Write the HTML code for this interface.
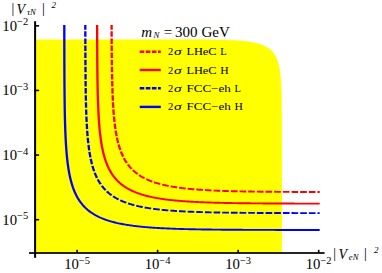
<!DOCTYPE html>
<html><head><meta charset="utf-8"><style>
html,body{margin:0;padding:0;background:#fff;}
svg{display:block;font-family:"Liberation Serif",serif;}
</style></head><body>
<svg width="382" height="273" viewBox="0 0 382 273">
<rect width="382" height="273" fill="#fff"/>
<path d="M35.10,253.00 L35.10,39.40 L112.39,39.40 L136.63,39.40 L150.81,39.41 L160.87,39.41 L168.67,39.42 L175.04,39.43 L180.43,39.44 L185.09,39.46 L189.21,39.47 L192.89,39.49 L196.21,39.50 L199.25,39.52 L202.04,39.55 L204.62,39.57 L207.02,39.60 L209.27,39.62 L211.38,39.65 L213.36,39.68 L215.24,39.71 L217.02,39.75 L218.71,39.78 L220.32,39.82 L221.86,39.86 L223.33,39.90 L224.74,39.94 L226.10,39.99 L227.40,40.04 L228.65,40.08 L229.86,40.13 L231.02,40.19 L232.14,40.24 L233.23,40.30 L234.29,40.35 L235.30,40.41 L236.29,40.47 L237.25,40.54 L238.19,40.60 L239.09,40.67 L239.97,40.74 L240.83,40.81 L241.66,40.88 L242.48,40.96 L243.27,41.03 L244.04,41.11 L244.79,41.19 L245.53,41.27 L246.25,41.36 L246.95,41.44 L247.64,41.53 L248.31,41.62 L248.96,41.71 L249.60,41.81 L250.23,41.91 L250.85,42.00 L251.45,42.10 L252.04,42.21 L252.62,42.31 L253.18,42.42 L253.74,42.53 L254.28,42.64 L254.82,42.75 L255.34,42.87 L255.85,42.99 L256.36,43.11 L256.85,43.23 L257.34,43.35 L257.82,43.48 L258.28,43.61 L258.75,43.74 L259.20,43.87 L259.64,44.01 L260.08,44.15 L260.51,44.29 L260.93,44.43 L261.34,44.58 L261.75,44.73 L262.15,44.88 L262.55,45.03 L262.93,45.19 L263.32,45.35 L263.69,45.51 L264.06,45.67 L264.42,45.84 L264.78,46.01 L265.13,46.18 L265.48,46.36 L265.82,46.54 L266.15,46.72 L266.48,46.90 L266.80,47.09 L267.12,47.28 L267.44,47.47 L267.75,47.67 L268.05,47.87 L268.35,48.07 L268.65,48.27 L268.94,48.48 L269.22,48.69 L269.50,48.91 L269.78,49.13 L270.05,49.35 L270.32,49.58 L270.58,49.80 L270.84,50.04 L271.10,50.27 L271.35,50.51 L271.60,50.76 L271.84,51.01 L272.08,51.26 L272.32,51.52 L272.55,51.78 L272.78,52.04 L273.01,52.31 L273.23,52.58 L273.45,52.86 L273.66,53.14 L273.87,53.43 L274.08,53.72 L274.29,54.01 L274.49,54.32 L274.69,54.62 L274.88,54.93 L275.07,55.25 L275.26,55.57 L275.45,55.90 L275.63,56.23 L275.81,56.57 L275.98,56.91 L276.15,57.26 L276.32,57.62 L276.49,57.98 L276.66,58.35 L276.82,58.73 L276.97,59.11 L277.13,59.50 L277.28,59.90 L277.43,60.30 L277.58,60.72 L277.72,61.14 L277.86,61.57 L278.00,62.00 L278.14,62.45 L278.27,62.90 L278.40,63.37 L278.53,63.84 L278.66,64.32 L278.78,64.82 L278.90,65.32 L279.02,65.83 L279.13,66.36 L279.24,66.90 L279.35,67.45 L279.46,68.01 L279.57,68.59 L279.67,69.18 L279.77,69.78 L279.87,70.40 L279.96,71.04 L280.05,71.69 L280.14,72.36 L280.23,73.05 L280.32,73.76 L280.40,74.48 L280.48,75.23 L280.56,76.00 L280.64,76.80 L280.71,77.61 L280.78,78.46 L280.85,79.33 L280.92,80.23 L280.98,81.17 L281.05,82.14 L281.11,83.14 L281.17,84.19 L281.22,85.27 L281.27,86.40 L281.33,87.58 L281.38,88.82 L281.42,90.11 L281.47,91.47 L281.51,92.90 L281.55,94.41 L281.59,96.00 L281.62,97.69 L281.66,99.49 L281.69,101.42 L281.72,103.49 L281.74,105.73 L281.77,108.17 L281.79,110.84 L281.81,113.79 L281.83,117.09 L281.85,120.84 L281.86,125.16 L281.87,130.27 L281.88,136.53 L281.89,144.61 L281.90,155.99 L281.90,175.44 L281.90,253.00Z" fill="#ffff00"/>
<g transform="scale(1.22,1)">
<path d="M52.70,25.01 L52.70,25.94 L52.70,26.86 L52.71,27.79 L52.71,28.72 L52.71,29.65 L52.71,30.57 L52.71,31.50 L52.71,32.43 L52.71,33.36 L52.71,34.29 L52.71,35.21 L52.71,36.14 L52.71,37.07 L52.71,38.00 L52.72,38.92 L52.72,39.85 L52.72,40.78 L52.72,41.71 L52.72,42.63 L52.72,43.56 L52.72,44.49 L52.72,45.42 L52.73,46.34 L52.73,47.27 L52.73,48.20 L52.73,49.13 L52.73,50.06 L52.73,50.98 L52.73,51.91 L52.74,52.84 L52.74,53.77 L52.74,54.69 L52.74,55.62 L52.74,56.55 L52.75,57.48 L52.75,58.40 L52.75,59.33 L52.75,60.26 L52.75,61.19 L52.76,62.11 L52.76,63.04 L52.76,63.97 L52.76,64.90 L52.77,65.83 L52.77,66.75 L52.77,67.68 L52.78,68.61 L52.78,69.54 L52.78,70.46 L52.78,71.39 L52.79,72.32 L52.79,73.25 L52.80,74.17 L52.80,75.10 L52.80,76.03 L52.81,76.96 L52.81,77.88 L52.82,78.81 L52.82,79.74 L52.82,80.67 L52.83,81.60 L52.83,82.52 L52.84,83.45 L52.84,84.38 L52.85,85.31 L52.86,86.23 L52.86,87.16 L52.87,88.09 L52.87,89.02 L52.88,89.94 L52.89,90.87 L52.89,91.80 L52.90,92.73 L52.91,93.65 L52.91,94.58 L52.92,95.51 L52.93,96.44 L52.94,97.36 L52.95,98.29 L52.96,99.22 L52.97,100.15 L52.98,101.08 L52.99,102.00 L53.00,102.93 L53.01,103.86 L53.02,104.79 L53.03,105.71 L53.04,106.64 L53.05,107.57 L53.06,108.50 L53.08,109.42 L53.09,110.35 L53.10,111.28 L53.12,112.21 L53.13,113.13 L53.15,114.06 L53.16,114.99 L53.18,115.92 L53.20,116.85 L53.21,117.77 L53.23,118.70 L53.25,119.63 L53.27,120.56 L53.29,121.48 L53.31,122.41 L53.33,123.34 L53.35,124.27 L53.38,125.19 L53.40,126.12 L53.43,127.05 L53.45,127.98 L53.48,128.90 L53.50,129.83 L53.53,130.76 L53.56,131.69 L53.59,132.62 L53.62,133.54 L53.65,134.47 L53.69,135.40 L53.72,136.33 L53.76,137.25 L53.79,138.18 L53.83,139.11 L53.87,140.04 L53.91,140.96 L53.95,141.89 L54.00,142.82 L54.04,143.75 L54.09,144.67 L54.14,145.60 L54.19,146.53 L54.24,147.46 L54.29,148.39 L54.35,149.31 L54.41,150.24 L54.47,151.17 L54.53,152.10 L54.59,153.02 L54.66,153.95 L54.73,154.88 L54.80,155.81 L54.87,156.73 L54.95,157.66 L55.03,158.59 L55.11,159.52 L55.20,160.44 L55.29,161.37 L55.38,162.30 L55.47,163.23 L55.57,164.16 L55.67,165.08 L55.78,166.01 L55.89,166.94 L56.00,167.87 L56.12,168.79 L56.24,169.72 L56.37,170.65 L56.50,171.58 L56.64,172.50 L56.79,173.43 L56.93,174.36 L57.09,175.29 L57.25,176.21 L57.42,177.14 L57.59,178.07 L57.77,179.00 L57.96,179.93 L58.15,180.85 L58.35,181.78 L58.57,182.71 L58.79,183.64 L59.02,184.56 L59.25,185.49 L59.50,186.42 L59.76,187.35 L60.04,188.27 L60.32,189.20 L60.61,190.13 L60.92,191.06 L61.24,191.98 L61.58,192.91 L61.93,193.84 L62.30,194.77 L62.69,195.70 L63.10,196.62 L63.52,197.55 L63.97,198.48 L64.44,199.41 L64.93,200.33 L65.45,201.26 L65.99,202.19 L66.57,203.12 L67.17,204.04 L67.81,204.97 L68.49,205.90 L69.21,206.83 L69.97,207.75 L70.78,208.68 L71.64,209.61 L72.55,210.54 L73.50,211.44 L74.45,212.28 L75.40,213.07 L76.34,213.81 L77.29,214.52 L78.24,215.18 L79.19,215.81 L80.13,216.40 L81.08,216.96 L82.03,217.50 L82.98,218.01 L83.92,218.49 L84.87,218.95 L85.82,219.38 L86.77,219.80 L87.71,220.20 L88.66,220.57 L89.61,220.94 L90.56,221.28 L91.50,221.61 L92.45,221.93 L93.40,222.23 L94.35,222.52 L95.29,222.80 L96.24,223.06 L97.19,223.32 L98.13,223.56 L99.08,223.79 L100.03,224.02 L100.98,224.23 L101.92,224.44 L102.87,224.64 L103.82,224.83 L104.77,225.01 L105.71,225.19 L106.66,225.36 L107.61,225.52 L108.56,225.68 L109.50,225.83 L110.45,225.98 L111.40,226.12 L112.35,226.25 L113.29,226.38 L114.24,226.51 L115.19,226.63 L116.14,226.74 L117.08,226.86 L118.03,226.96 L118.98,227.07 L119.93,227.17 L120.87,227.26 L121.82,227.36 L122.77,227.45 L123.72,227.53 L124.66,227.62 L125.61,227.70 L126.56,227.77 L127.51,227.85 L128.45,227.92 L129.40,227.99 L130.35,228.06 L131.29,228.12 L132.24,228.19 L133.19,228.25 L134.14,228.31 L135.08,228.36 L136.03,228.42 L136.98,228.47 L137.93,228.52 L138.87,228.57 L139.82,228.62 L140.77,228.66 L141.72,228.71 L142.66,228.75 L143.61,228.79 L144.56,228.83 L145.51,228.87 L146.45,228.91 L147.40,228.94 L148.35,228.98 L149.30,229.01 L150.24,229.04 L151.19,229.08 L152.14,229.11 L153.09,229.13 L154.03,229.16 L154.98,229.19 L155.93,229.22 L156.88,229.24 L157.82,229.27 L158.77,229.29 L159.72,229.31 L160.67,229.34 L161.61,229.36 L162.56,229.38 L163.51,229.40 L164.45,229.42 L165.40,229.44 L166.35,229.46 L167.30,229.47 L168.24,229.49 L169.19,229.51 L170.14,229.52 L171.09,229.54 L172.03,229.55 L172.98,229.57 L173.93,229.58 L174.88,229.60 L175.82,229.61 L176.77,229.62 L177.72,229.63 L178.67,229.64 L179.61,229.66 L180.56,229.67 L181.51,229.68 L182.46,229.69 L183.40,229.70 L184.35,229.71 L185.30,229.72 L186.25,229.73 L187.19,229.73 L188.14,229.74 L189.09,229.75 L190.04,229.76 L190.98,229.77 L191.93,229.77 L192.88,229.78 L193.83,229.79 L194.77,229.80 L195.72,229.80 L196.67,229.81 L197.61,229.81 L198.56,229.82 L199.51,229.83 L200.46,229.83 L201.40,229.84 L202.35,229.84 L203.30,229.85 L204.25,229.85 L205.19,229.86 L206.14,229.86 L207.09,229.86 L208.04,229.87 L208.98,229.87 L209.93,229.88 L210.88,229.88 L211.83,229.88 L212.77,229.89 L213.72,229.89 L214.67,229.89 L215.62,229.90 L216.56,229.90 L217.51,229.90 L218.46,229.91 L219.41,229.91 L220.35,229.91 L221.30,229.92 L222.25,229.92 L223.20,229.92 L224.14,229.92 L225.09,229.92 L226.04,229.93 L226.98,229.93 L227.93,229.93 L228.88,229.93 L229.83,229.94 L230.77,229.94 L231.72,229.94 L232.67,229.94 L233.62,229.94 L234.56,229.94 L235.51,229.95 L236.46,229.95 L237.41,229.95 L238.35,229.95 L239.30,229.95 L240.25,229.95 L241.20,229.95 L242.14,229.96 L243.09,229.96 L244.04,229.96 L244.99,229.96 L245.93,229.96 L246.88,229.96 L247.83,229.96 L248.78,229.96 L249.72,229.96 L250.67,229.97 L251.62,229.97 L252.57,229.97 L253.51,229.97 L254.46,229.97 L255.41,229.97 L256.36,229.97 L257.30,229.97 L258.25,229.97 L259.20,229.97 L260.14,229.97 L261.09,229.97 L262.04,229.97" fill="none" stroke="#0000ff" stroke-width="1.9"/>
<path d="M69.93,25.01 L69.93,25.85 L69.93,26.70 L69.93,27.54 L69.93,28.38 L69.93,29.23 L69.93,30.07 L69.93,30.91 L69.93,31.76 L69.94,32.60 L69.94,33.44 L69.94,34.29 L69.94,35.13 L69.94,35.97 L69.94,36.82 L69.95,37.66 L69.95,38.50 L69.95,39.35 L69.95,40.19 L69.95,41.03 L69.95,41.88 L69.96,42.72 L69.96,43.56 L69.96,44.41 L69.96,45.25 L69.96,46.09 L69.97,46.94 L69.97,47.78 L69.97,48.62 L69.97,49.47 L69.98,50.31 L69.98,51.15 L69.98,52.00 L69.99,52.84 L69.99,53.68 L69.99,54.53 L69.99,55.37 L70.00,56.21 L70.00,57.06 L70.00,57.90 L70.01,58.75 L70.01,59.59 L70.01,60.43 L70.02,61.28 L70.02,62.12 L70.03,62.96 L70.03,63.81 L70.03,64.65 L70.04,65.49 L70.04,66.34 L70.05,67.18 L70.05,68.02 L70.06,68.87 L70.06,69.71 L70.07,70.55 L70.07,71.40 L70.08,72.24 L70.09,73.08 L70.09,73.93 L70.10,74.77 L70.10,75.61 L70.11,76.46 L70.12,77.30 L70.12,78.14 L70.13,78.99 L70.14,79.83 L70.15,80.67 L70.15,81.52 L70.16,82.36 L70.17,83.20 L70.18,84.05 L70.19,84.89 L70.20,85.73 L70.21,86.58 L70.22,87.42 L70.23,88.26 L70.24,89.11 L70.25,89.95 L70.26,90.79 L70.27,91.64 L70.28,92.48 L70.29,93.32 L70.31,94.17 L70.32,95.01 L70.33,95.86 L70.35,96.70 L70.36,97.54 L70.37,98.39 L70.39,99.23 L70.41,100.07 L70.42,100.92 L70.44,101.76 L70.45,102.60 L70.47,103.45 L70.49,104.29 L70.51,105.13 L70.53,105.98 L70.55,106.82 L70.57,107.66 L70.59,108.51 L70.61,109.35 L70.63,110.19 L70.65,111.04 L70.68,111.88 L70.70,112.72 L70.73,113.57 L70.75,114.41 L70.78,115.25 L70.81,116.10 L70.84,116.94 L70.87,117.78 L70.90,118.63 L70.93,119.47 L70.96,120.31 L70.99,121.16 L71.03,122.00 L71.06,122.84 L71.10,123.69 L71.14,124.53 L71.18,125.37 L71.22,126.22 L71.26,127.06 L71.30,127.90 L71.34,128.75 L71.39,129.59 L71.44,130.43 L71.48,131.28 L71.53,132.12 L71.59,132.97 L71.64,133.81 L71.70,134.65 L71.75,135.50 L71.81,136.34 L71.87,137.18 L71.93,138.03 L72.00,138.87 L72.07,139.71 L72.13,140.56 L72.21,141.40 L72.28,142.24 L72.36,143.09 L72.43,143.93 L72.52,144.77 L72.60,145.62 L72.69,146.46 L72.78,147.30 L72.87,148.15 L72.96,148.99 L73.06,149.83 L73.17,150.68 L73.27,151.52 L73.38,152.36 L73.50,153.21 L73.61,154.05 L73.73,154.89 L73.86,155.74 L73.99,156.58 L74.13,157.42 L74.27,158.27 L74.41,159.11 L74.56,159.95 L74.71,160.80 L74.88,161.64 L75.04,162.48 L75.21,163.33 L75.39,164.17 L75.58,165.01 L75.77,165.86 L75.97,166.70 L76.18,167.55 L76.39,168.39 L76.62,169.23 L76.85,170.08 L77.09,170.92 L77.34,171.76 L77.60,172.61 L77.87,173.45 L78.16,174.29 L78.45,175.14 L78.76,175.98 L79.08,176.82 L79.41,177.67 L79.75,178.51 L80.12,179.35 L80.49,180.20 L80.89,181.04 L81.30,181.88 L81.73,182.73 L82.18,183.57 L82.65,184.41 L83.15,185.26 L83.66,186.10 L84.21,186.94 L84.78,187.79 L85.38,188.63 L86.02,189.47 L86.69,190.32 L87.39,191.16 L88.14,192.00 L88.92,192.85 L89.76,193.69 L90.62,194.51 L91.48,195.28 L92.34,196.01 L93.21,196.70 L94.07,197.36 L94.93,197.98 L95.79,198.57 L96.65,199.13 L97.51,199.66 L98.37,200.17 L99.24,200.65 L100.10,201.11 L100.96,201.55 L101.82,201.98 L102.68,202.38 L103.54,202.77 L104.40,203.13 L105.27,203.49 L106.13,203.83 L106.99,204.15 L107.85,204.47 L108.71,204.76 L109.57,205.05 L110.43,205.33 L111.30,205.59 L112.16,205.85 L113.02,206.10 L113.88,206.33 L114.74,206.56 L115.60,206.78 L116.46,206.99 L117.33,207.19 L118.19,207.39 L119.05,207.58 L119.91,207.76 L120.77,207.93 L121.63,208.10 L122.49,208.27 L123.36,208.42 L124.22,208.57 L125.08,208.72 L125.94,208.86 L126.80,209.00 L127.66,209.13 L128.52,209.26 L129.38,209.38 L130.25,209.50 L131.11,209.62 L131.97,209.73 L132.83,209.83 L133.69,209.94 L134.55,210.04 L135.41,210.14 L136.28,210.23 L137.14,210.32 L138.00,210.41 L138.86,210.49 L139.72,210.58 L140.58,210.66 L141.44,210.73 L142.31,210.81 L143.17,210.88 L144.03,210.95 L144.89,211.02 L145.75,211.08 L146.61,211.15 L147.47,211.21 L148.34,211.27 L149.20,211.32 L150.06,211.38 L150.92,211.43 L151.78,211.49 L152.64,211.54 L153.50,211.58 L154.37,211.63 L155.23,211.68 L156.09,211.72 L156.95,211.77 L157.81,211.81 L158.67,211.85 L159.53,211.89 L160.40,211.93 L161.26,211.96 L162.12,212.00 L162.98,212.03 L163.84,212.07 L164.70,212.10 L165.56,212.13 L166.42,212.16 L167.29,212.19 L168.15,212.22 L169.01,212.25 L169.87,212.27 L170.73,212.30 L171.59,212.33 L172.45,212.35 L173.32,212.37 L174.18,212.40 L175.04,212.42 L175.90,212.44 L176.76,212.46 L177.62,212.48 L178.48,212.50 L179.35,212.52 L180.21,212.54 L181.07,212.56 L181.93,212.58 L182.79,212.59 L183.65,212.61 L184.51,212.63 L185.38,212.64 L186.24,212.66 L187.10,212.67 L187.96,212.69 L188.82,212.70 L189.68,212.71 L190.54,212.73 L191.41,212.74 L192.27,212.75 L193.13,212.76 L193.99,212.77 L194.85,212.78 L195.71,212.80 L196.57,212.81 L197.44,212.82 L198.30,212.83 L199.16,212.84 L200.02,212.84 L200.88,212.85 L201.74,212.86 L202.60,212.87 L203.46,212.88 L204.33,212.89 L205.19,212.89 L206.05,212.90 L206.91,212.91 L207.77,212.92 L208.63,212.92 L209.49,212.93 L210.36,212.94 L211.22,212.94 L212.08,212.95 L212.94,212.95 L213.80,212.96 L214.66,212.97 L215.52,212.97 L216.39,212.98 L217.25,212.98 L218.11,212.99 L218.97,212.99 L219.83,213.00 L220.69,213.00 L221.55,213.00 L222.42,213.01 L223.28,213.01 L224.14,213.02 L225.00,213.02 L225.86,213.02 L226.72,213.03 L227.58,213.03 L228.45,213.03 L229.31,213.04 L230.17,213.04 L231.03,213.04 L231.89,213.05 L232.75,213.05 L233.61,213.05 L234.48,213.06 L235.34,213.06 L236.20,213.06 L237.06,213.06 L237.92,213.07 L238.78,213.07 L239.64,213.07 L240.50,213.07 L241.37,213.08 L242.23,213.08 L243.09,213.08 L243.95,213.08 L244.81,213.08 L245.67,213.09 L246.53,213.09 L247.40,213.09 L248.26,213.09 L249.12,213.09 L249.98,213.09 L250.84,213.10 L251.70,213.10 L252.56,213.10 L253.43,213.10 L254.29,213.10 L255.15,213.10 L256.01,213.10 L256.87,213.11 L257.73,213.11 L258.59,213.11 L259.46,213.11 L260.32,213.11 L261.18,213.11 L262.04,213.11" fill="none" stroke="#0000ff" stroke-width="1.9" stroke-dasharray="5.5,1.6" stroke-dashoffset="0.8"/>
<path d="M79.61,25.01 L79.62,25.80 L79.62,26.60 L79.62,27.40 L79.62,28.19 L79.62,28.99 L79.62,29.78 L79.63,30.58 L79.63,31.38 L79.63,32.17 L79.63,32.97 L79.63,33.77 L79.63,34.56 L79.64,35.36 L79.64,36.15 L79.64,36.95 L79.64,37.75 L79.64,38.54 L79.65,39.34 L79.65,40.13 L79.65,40.93 L79.65,41.73 L79.66,42.52 L79.66,43.32 L79.66,44.11 L79.67,44.91 L79.67,45.71 L79.67,46.50 L79.67,47.30 L79.68,48.09 L79.68,48.89 L79.68,49.69 L79.69,50.48 L79.69,51.28 L79.69,52.07 L79.70,52.87 L79.70,53.67 L79.71,54.46 L79.71,55.26 L79.71,56.05 L79.72,56.85 L79.72,57.65 L79.73,58.44 L79.73,59.24 L79.74,60.03 L79.74,60.83 L79.75,61.63 L79.75,62.42 L79.76,63.22 L79.76,64.01 L79.77,64.81 L79.78,65.61 L79.78,66.40 L79.79,67.20 L79.79,68.00 L79.80,68.79 L79.81,69.59 L79.81,70.38 L79.82,71.18 L79.83,71.98 L79.84,72.77 L79.84,73.57 L79.85,74.36 L79.86,75.16 L79.87,75.96 L79.88,76.75 L79.89,77.55 L79.90,78.34 L79.91,79.14 L79.92,79.94 L79.93,80.73 L79.94,81.53 L79.95,82.32 L79.96,83.12 L79.97,83.92 L79.98,84.71 L79.99,85.51 L80.01,86.30 L80.02,87.10 L80.03,87.90 L80.05,88.69 L80.06,89.49 L80.07,90.28 L80.09,91.08 L80.10,91.88 L80.12,92.67 L80.14,93.47 L80.15,94.26 L80.17,95.06 L80.19,95.86 L80.21,96.65 L80.22,97.45 L80.24,98.24 L80.26,99.04 L80.28,99.84 L80.30,100.63 L80.33,101.43 L80.35,102.23 L80.37,103.02 L80.39,103.82 L80.42,104.61 L80.44,105.41 L80.47,106.21 L80.50,107.00 L80.52,107.80 L80.55,108.59 L80.58,109.39 L80.61,110.19 L80.64,110.98 L80.67,111.78 L80.70,112.57 L80.74,113.37 L80.77,114.17 L80.81,114.96 L80.84,115.76 L80.88,116.55 L80.92,117.35 L80.96,118.15 L81.00,118.94 L81.04,119.74 L81.09,120.53 L81.13,121.33 L81.18,122.13 L81.23,122.92 L81.28,123.72 L81.33,124.51 L81.38,125.31 L81.43,126.11 L81.49,126.90 L81.55,127.70 L81.60,128.49 L81.67,129.29 L81.73,130.09 L81.79,130.88 L81.86,131.68 L81.93,132.47 L82.00,133.27 L82.07,134.07 L82.15,134.86 L82.23,135.66 L82.31,136.46 L82.39,137.25 L82.47,138.05 L82.56,138.84 L82.65,139.64 L82.75,140.44 L82.84,141.23 L82.94,142.03 L83.05,142.82 L83.16,143.62 L83.27,144.42 L83.38,145.21 L83.50,146.01 L83.62,146.80 L83.74,147.60 L83.87,148.40 L84.01,149.19 L84.15,149.99 L84.29,150.78 L84.44,151.58 L84.59,152.38 L84.75,153.17 L84.91,153.97 L85.08,154.76 L85.26,155.56 L85.44,156.36 L85.63,157.15 L85.82,157.95 L86.02,158.74 L86.23,159.54 L86.45,160.34 L86.68,161.13 L86.91,161.93 L87.15,162.72 L87.40,163.52 L87.66,164.32 L87.93,165.11 L88.21,165.91 L88.51,166.70 L88.81,167.50 L89.12,168.30 L89.45,169.09 L89.79,169.89 L90.15,170.69 L90.52,171.48 L90.91,172.28 L91.31,173.07 L91.73,173.87 L92.17,174.67 L92.63,175.46 L93.11,176.26 L93.61,177.05 L94.14,177.85 L94.69,178.65 L95.27,179.44 L95.88,180.24 L96.51,181.03 L97.19,181.83 L97.90,182.63 L98.64,183.42 L99.44,184.22 L100.25,184.99 L101.06,185.72 L101.87,186.42 L102.69,187.08 L103.50,187.70 L104.31,188.30 L105.13,188.87 L105.94,189.41 L106.75,189.92 L107.57,190.41 L108.38,190.88 L109.19,191.33 L110.00,191.76 L110.82,192.17 L111.63,192.57 L112.44,192.95 L113.26,193.31 L114.07,193.66 L114.88,193.99 L115.70,194.31 L116.51,194.62 L117.32,194.92 L118.13,195.21 L118.95,195.48 L119.76,195.75 L120.57,196.00 L121.39,196.25 L122.20,196.48 L123.01,196.71 L123.83,196.93 L124.64,197.14 L125.45,197.35 L126.27,197.55 L127.08,197.74 L127.89,197.92 L128.70,198.10 L129.52,198.27 L130.33,198.44 L131.14,198.60 L131.96,198.75 L132.77,198.90 L133.58,199.05 L134.40,199.19 L135.21,199.32 L136.02,199.46 L136.83,199.58 L137.65,199.70 L138.46,199.82 L139.27,199.94 L140.09,200.05 L140.90,200.16 L141.71,200.26 L142.53,200.36 L143.34,200.46 L144.15,200.56 L144.96,200.65 L145.78,200.74 L146.59,200.82 L147.40,200.91 L148.22,200.99 L149.03,201.07 L149.84,201.14 L150.66,201.22 L151.47,201.29 L152.28,201.36 L153.09,201.43 L153.91,201.49 L154.72,201.56 L155.53,201.62 L156.35,201.68 L157.16,201.73 L157.97,201.79 L158.79,201.84 L159.60,201.90 L160.41,201.95 L161.23,202.00 L162.04,202.05 L162.85,202.09 L163.66,202.14 L164.48,202.18 L165.29,202.23 L166.10,202.27 L166.92,202.31 L167.73,202.35 L168.54,202.38 L169.36,202.42 L170.17,202.46 L170.98,202.49 L171.79,202.53 L172.61,202.56 L173.42,202.59 L174.23,202.62 L175.05,202.65 L175.86,202.68 L176.67,202.71 L177.49,202.74 L178.30,202.76 L179.11,202.79 L179.92,202.81 L180.74,202.84 L181.55,202.86 L182.36,202.88 L183.18,202.91 L183.99,202.93 L184.80,202.95 L185.62,202.97 L186.43,202.99 L187.24,203.01 L188.05,203.03 L188.87,203.05 L189.68,203.06 L190.49,203.08 L191.31,203.10 L192.12,203.11 L192.93,203.13 L193.75,203.15 L194.56,203.16 L195.37,203.18 L196.19,203.19 L197.00,203.20 L197.81,203.22 L198.62,203.23 L199.44,203.24 L200.25,203.25 L201.06,203.27 L201.88,203.28 L202.69,203.29 L203.50,203.30 L204.32,203.31 L205.13,203.32 L205.94,203.33 L206.75,203.34 L207.57,203.35 L208.38,203.36 L209.19,203.37 L210.01,203.38 L210.82,203.38 L211.63,203.39 L212.45,203.40 L213.26,203.41 L214.07,203.41 L214.88,203.42 L215.70,203.43 L216.51,203.44 L217.32,203.44 L218.14,203.45 L218.95,203.46 L219.76,203.46 L220.58,203.47 L221.39,203.47 L222.20,203.48 L223.01,203.48 L223.83,203.49 L224.64,203.49 L225.45,203.50 L226.27,203.50 L227.08,203.51 L227.89,203.51 L228.71,203.52 L229.52,203.52 L230.33,203.53 L231.14,203.53 L231.96,203.54 L232.77,203.54 L233.58,203.54 L234.40,203.55 L235.21,203.55 L236.02,203.55 L236.84,203.56 L237.65,203.56 L238.46,203.56 L239.28,203.57 L240.09,203.57 L240.90,203.57 L241.71,203.58 L242.53,203.58 L243.34,203.58 L244.15,203.58 L244.97,203.59 L245.78,203.59 L246.59,203.59 L247.41,203.59 L248.22,203.60 L249.03,203.60 L249.84,203.60 L250.66,203.60 L251.47,203.60 L252.28,203.61 L253.10,203.61 L253.91,203.61 L254.72,203.61 L255.54,203.61 L256.35,203.61 L257.16,203.62 L257.97,203.62 L258.79,203.62 L259.60,203.62 L260.41,203.62 L261.23,203.62 L262.04,203.63" fill="none" stroke="#ff0000" stroke-width="1.9"/>
<path d="M91.48,25.01 L91.48,25.75 L91.48,26.48 L91.48,27.22 L91.49,27.96 L91.49,28.70 L91.49,29.44 L91.49,30.18 L91.50,30.91 L91.50,31.65 L91.50,32.39 L91.50,33.13 L91.51,33.87 L91.51,34.60 L91.51,35.34 L91.51,36.08 L91.52,36.82 L91.52,37.56 L91.52,38.29 L91.53,39.03 L91.53,39.77 L91.53,40.51 L91.54,41.25 L91.54,41.98 L91.54,42.72 L91.55,43.46 L91.55,44.20 L91.56,44.94 L91.56,45.68 L91.56,46.41 L91.57,47.15 L91.57,47.89 L91.58,48.63 L91.58,49.37 L91.59,50.10 L91.59,50.84 L91.60,51.58 L91.60,52.32 L91.61,53.06 L91.61,53.79 L91.62,54.53 L91.62,55.27 L91.63,56.01 L91.64,56.75 L91.64,57.48 L91.65,58.22 L91.65,58.96 L91.66,59.70 L91.67,60.44 L91.68,61.17 L91.68,61.91 L91.69,62.65 L91.70,63.39 L91.71,64.13 L91.71,64.87 L91.72,65.60 L91.73,66.34 L91.74,67.08 L91.75,67.82 L91.76,68.56 L91.77,69.29 L91.78,70.03 L91.79,70.77 L91.80,71.51 L91.81,72.25 L91.82,72.98 L91.83,73.72 L91.84,74.46 L91.85,75.20 L91.86,75.94 L91.88,76.67 L91.89,77.41 L91.90,78.15 L91.92,78.89 L91.93,79.63 L91.94,80.37 L91.96,81.10 L91.97,81.84 L91.99,82.58 L92.00,83.32 L92.02,84.06 L92.04,84.79 L92.05,85.53 L92.07,86.27 L92.09,87.01 L92.11,87.75 L92.13,88.48 L92.15,89.22 L92.17,89.96 L92.19,90.70 L92.21,91.44 L92.23,92.17 L92.25,92.91 L92.28,93.65 L92.30,94.39 L92.32,95.13 L92.35,95.87 L92.38,96.60 L92.40,97.34 L92.43,98.08 L92.46,98.82 L92.48,99.56 L92.51,100.29 L92.54,101.03 L92.58,101.77 L92.61,102.51 L92.64,103.25 L92.67,103.98 L92.71,104.72 L92.74,105.46 L92.78,106.20 L92.82,106.94 L92.86,107.67 L92.90,108.41 L92.94,109.15 L92.98,109.89 L93.02,110.63 L93.07,111.37 L93.11,112.10 L93.16,112.84 L93.21,113.58 L93.26,114.32 L93.31,115.06 L93.36,115.79 L93.42,116.53 L93.47,117.27 L93.53,118.01 L93.59,118.75 L93.65,119.48 L93.71,120.22 L93.77,120.96 L93.84,121.70 L93.91,122.44 L93.98,123.17 L94.05,123.91 L94.12,124.65 L94.20,125.39 L94.28,126.13 L94.36,126.86 L94.44,127.60 L94.53,128.34 L94.61,129.08 L94.71,129.82 L94.80,130.56 L94.89,131.29 L94.99,132.03 L95.10,132.77 L95.20,133.51 L95.31,134.25 L95.42,134.98 L95.54,135.72 L95.66,136.46 L95.78,137.20 L95.90,137.94 L96.03,138.67 L96.17,139.41 L96.31,140.15 L96.45,140.89 L96.60,141.63 L96.75,142.36 L96.91,143.10 L97.07,143.84 L97.24,144.58 L97.41,145.32 L97.59,146.06 L97.77,146.79 L97.96,147.53 L98.16,148.27 L98.36,149.01 L98.57,149.75 L98.79,150.48 L99.02,151.22 L99.25,151.96 L99.49,152.70 L99.74,153.44 L100.00,154.17 L100.27,154.91 L100.55,155.65 L100.84,156.39 L101.13,157.13 L101.44,157.86 L101.77,158.60 L102.10,159.34 L102.45,160.08 L102.81,160.82 L103.19,161.56 L103.58,162.29 L103.98,163.03 L104.41,163.77 L104.85,164.51 L105.31,165.25 L105.79,165.98 L106.29,166.72 L106.82,167.46 L107.37,168.20 L107.94,168.94 L108.55,169.67 L109.18,170.41 L109.84,171.15 L110.54,171.89 L111.27,172.63 L112.03,173.35 L112.78,174.03 L113.54,174.68 L114.29,175.30 L115.04,175.89 L115.80,176.45 L116.55,176.99 L117.30,177.50 L118.06,177.99 L118.81,178.47 L119.57,178.92 L120.32,179.35 L121.07,179.76 L121.83,180.16 L122.58,180.55 L123.34,180.91 L124.09,181.27 L124.84,181.61 L125.60,181.93 L126.35,182.25 L127.10,182.55 L127.86,182.85 L128.61,183.13 L129.37,183.40 L130.12,183.66 L130.87,183.92 L131.63,184.16 L132.38,184.40 L133.14,184.63 L133.89,184.85 L134.64,185.06 L135.40,185.27 L136.15,185.47 L136.90,185.66 L137.66,185.85 L138.41,186.03 L139.17,186.20 L139.92,186.37 L140.67,186.54 L141.43,186.69 L142.18,186.85 L142.93,187.00 L143.69,187.14 L144.44,187.28 L145.20,187.42 L145.95,187.55 L146.70,187.68 L147.46,187.80 L148.21,187.92 L148.97,188.04 L149.72,188.15 L150.47,188.26 L151.23,188.36 L151.98,188.47 L152.73,188.57 L153.49,188.66 L154.24,188.76 L155.00,188.85 L155.75,188.94 L156.50,189.02 L157.26,189.11 L158.01,189.19 L158.77,189.27 L159.52,189.34 L160.27,189.42 L161.03,189.49 L161.78,189.56 L162.53,189.63 L163.29,189.70 L164.04,189.76 L164.80,189.82 L165.55,189.89 L166.30,189.94 L167.06,190.00 L167.81,190.06 L168.57,190.11 L169.32,190.17 L170.07,190.22 L170.83,190.27 L171.58,190.32 L172.33,190.36 L173.09,190.41 L173.84,190.45 L174.60,190.50 L175.35,190.54 L176.10,190.58 L176.86,190.62 L177.61,190.66 L178.36,190.70 L179.12,190.73 L179.87,190.77 L180.63,190.80 L181.38,190.84 L182.13,190.87 L182.89,190.90 L183.64,190.93 L184.40,190.97 L185.15,190.99 L185.90,191.02 L186.66,191.05 L187.41,191.08 L188.16,191.11 L188.92,191.13 L189.67,191.16 L190.43,191.18 L191.18,191.20 L191.93,191.23 L192.69,191.25 L193.44,191.27 L194.20,191.29 L194.95,191.31 L195.70,191.33 L196.46,191.35 L197.21,191.37 L197.96,191.39 L198.72,191.41 L199.47,191.43 L200.23,191.44 L200.98,191.46 L201.73,191.48 L202.49,191.49 L203.24,191.51 L203.99,191.52 L204.75,191.54 L205.50,191.55 L206.26,191.57 L207.01,191.58 L207.76,191.59 L208.52,191.61 L209.27,191.62 L210.03,191.63 L210.78,191.64 L211.53,191.65 L212.29,191.67 L213.04,191.68 L213.79,191.69 L214.55,191.70 L215.30,191.71 L216.06,191.72 L216.81,191.73 L217.56,191.74 L218.32,191.74 L219.07,191.75 L219.83,191.76 L220.58,191.77 L221.33,191.78 L222.09,191.79 L222.84,191.79 L223.59,191.80 L224.35,191.81 L225.10,191.82 L225.86,191.82 L226.61,191.83 L227.36,191.84 L228.12,191.84 L228.87,191.85 L229.63,191.86 L230.38,191.86 L231.13,191.87 L231.89,191.87 L232.64,191.88 L233.39,191.88 L234.15,191.89 L234.90,191.89 L235.66,191.90 L236.41,191.90 L237.16,191.91 L237.92,191.91 L238.67,191.92 L239.42,191.92 L240.18,191.93 L240.93,191.93 L241.69,191.93 L242.44,191.94 L243.19,191.94 L243.95,191.94 L244.70,191.95 L245.46,191.95 L246.21,191.96 L246.96,191.96 L247.72,191.96 L248.47,191.96 L249.22,191.97 L249.98,191.97 L250.73,191.97 L251.49,191.98 L252.24,191.98 L252.99,191.98 L253.75,191.98 L254.50,191.99 L255.26,191.99 L256.01,191.99 L256.76,191.99 L257.52,192.00 L258.27,192.00 L259.02,192.00 L259.78,192.00 L260.53,192.01 L261.29,192.01 L262.04,192.01" fill="none" stroke="#ff0000" stroke-width="1.9" stroke-dasharray="5.5,1.6" stroke-dashoffset="0.8"/>
</g>
<rect x="34.1" y="21.2" width="2" height="236.6" fill="#000"/>
<rect x="29" y="252.15" width="295.6" height="1.7" fill="#000"/>
<rect x="76.30" y="249.8" width="1.6" height="3" fill="#000"/>
<rect x="36" y="218.90" width="3.1" height="1.6" fill="#000"/>
<rect x="156.83" y="249.8" width="1.6" height="3" fill="#000"/>
<rect x="36" y="154.27" width="3.1" height="1.6" fill="#000"/>
<rect x="237.36" y="249.8" width="1.6" height="3" fill="#000"/>
<rect x="36" y="89.64" width="3.1" height="1.6" fill="#000"/>
<rect x="317.89" y="249.8" width="1.6" height="3" fill="#000"/>
<rect x="36" y="25.01" width="3.1" height="1.6" fill="#000"/>
<path d="M139.7,51.7 H160.8" stroke="#ff0000" stroke-width="2.4" stroke-dasharray="4.6,1.5"/>
<path d="M139.7,70.0 H160.8" stroke="#ff0000" stroke-width="2.4"/>
<path d="M139.7,88.3 H160.8" stroke="#0000ff" stroke-width="2.4" stroke-dasharray="4.6,1.5"/>
<path d="M139.7,106.9 H160.8" stroke="#0000ff" stroke-width="2.4"/>
<g fill="#000" stroke="none" font-family="'Liberation Serif',serif">
<text x="2.3" y="224.5" font-size="14.7" text-anchor="start">10<tspan font-size="10.5" dy="-5.4">−5</tspan></text>
<text x="77.1" y="269.0" font-size="14.7" text-anchor="middle">10<tspan font-size="10.5" dy="-5.4">−5</tspan></text>
<text x="2.3" y="159.9" font-size="14.7" text-anchor="start">10<tspan font-size="10.5" dy="-5.4">−4</tspan></text>
<text x="157.6" y="269.0" font-size="14.7" text-anchor="middle">10<tspan font-size="10.5" dy="-5.4">−4</tspan></text>
<text x="2.3" y="95.2" font-size="14.7" text-anchor="start">10<tspan font-size="10.5" dy="-5.4">−3</tspan></text>
<text x="238.2" y="269.0" font-size="14.7" text-anchor="middle">10<tspan font-size="10.5" dy="-5.4">−3</tspan></text>
<text x="2.3" y="30.6" font-size="14.7" text-anchor="start">10<tspan font-size="10.5" dy="-5.4">−2</tspan></text>
<text x="318.7" y="269.0" font-size="14.7" text-anchor="middle">10<tspan font-size="10.5" dy="-5.4">−2</tspan></text>

<text x="11.4" y="13.2" font-size="14">|</text>
<text x="16.5" y="13.6" font-size="14" font-style="italic">V</text>
<text x="27" y="15" font-size="8.7" font-style="italic">τN</text>
<text x="42.1" y="13.2" font-size="14">|</text>
<text x="51.4" y="8.2" font-size="9" font-style="italic">2</text>

<text x="333.3" y="258.1" font-size="14">|</text>
<text x="338.4" y="258.5" font-size="14" font-style="italic">V</text>
<text x="348.8" y="259.9" font-size="8.7" font-style="italic">eN</text>
<text x="364" y="258.1" font-size="14">|</text>
<text x="373.9" y="252.9" font-size="9" font-style="italic">2</text>

<text x="141.3" y="37" font-size="15" font-style="italic">m</text>
<text x="153.5" y="38.4" font-size="8.8" font-style="italic">N</text>
<text x="163.7" y="37" font-size="15">=</text>
<text x="175" y="37" font-size="15">300</text>
<text x="201.5" y="37" font-size="15">GeV</text>

<text x="167.9" y="55.2" font-size="10.5">2</text>
<text x="173.9" y="55.2" font-size="10.5" font-style="italic" textLength="7.6" lengthAdjust="spacingAndGlyphs">σ</text>
<text x="186.4" y="55.2" font-size="10.5" textLength="30.2" lengthAdjust="spacingAndGlyphs">LHeC</text>
<text x="220.3" y="55.2" font-size="10.5">L</text>

<text x="167.9" y="73.5" font-size="10.5">2</text>
<text x="173.9" y="73.5" font-size="10.5" font-style="italic" textLength="7.6" lengthAdjust="spacingAndGlyphs">σ</text>
<text x="186.4" y="73.5" font-size="10.5" textLength="30.2" lengthAdjust="spacingAndGlyphs">LHeC</text>
<text x="220.3" y="73.5" font-size="10.5" textLength="8.4" lengthAdjust="spacingAndGlyphs">H</text>

<text x="167.9" y="91.8" font-size="10.5">2</text>
<text x="173.9" y="91.8" font-size="10.5" font-style="italic" textLength="7.6" lengthAdjust="spacingAndGlyphs">σ</text>
<text x="186.6" y="91.8" font-size="10.5" textLength="44.3" lengthAdjust="spacingAndGlyphs">FCC−eh</text>
<text x="234.4" y="91.8" font-size="10.5">L</text>

<text x="167.9" y="110.4" font-size="10.5">2</text>
<text x="173.9" y="110.4" font-size="10.5" font-style="italic" textLength="7.6" lengthAdjust="spacingAndGlyphs">σ</text>
<text x="186.6" y="110.4" font-size="10.5" textLength="44.3" lengthAdjust="spacingAndGlyphs">FCC−eh</text>
<text x="234.4" y="110.4" font-size="10.5" textLength="8.4" lengthAdjust="spacingAndGlyphs">H</text>
</g>
</svg>
</body></html>
